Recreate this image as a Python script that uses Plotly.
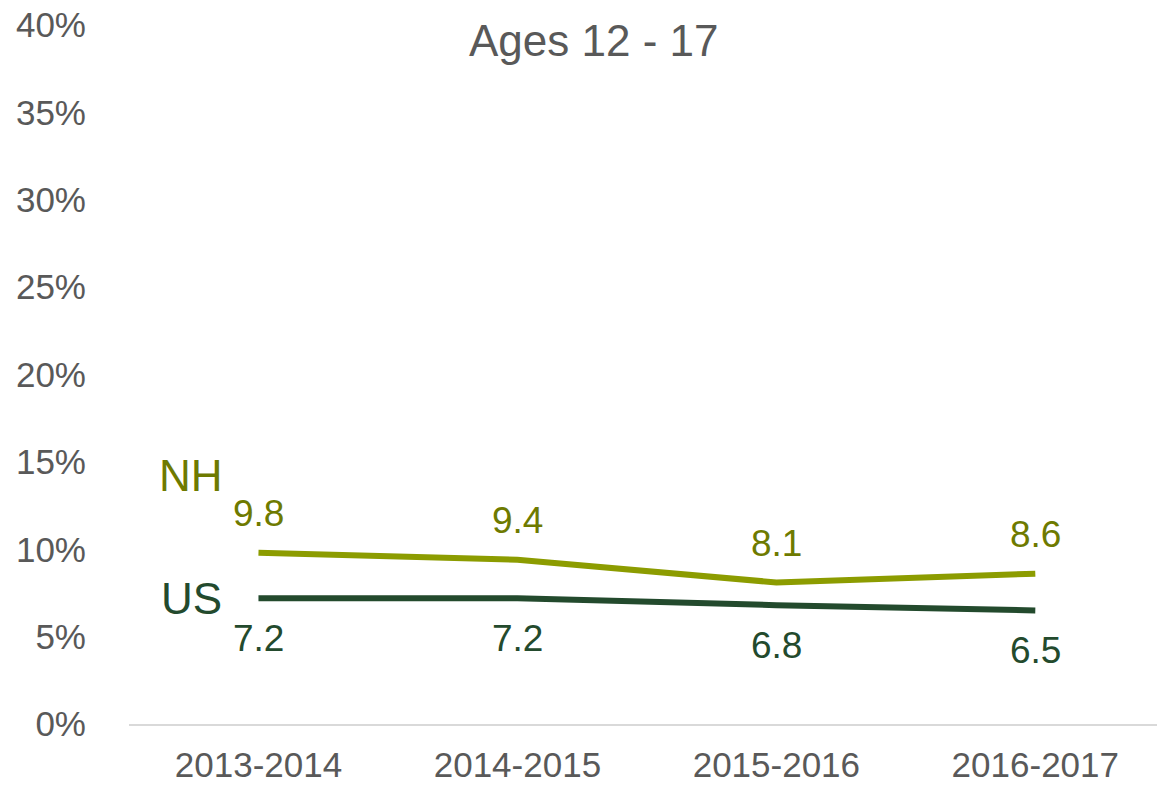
import plotly.graph_objects as go

categories = ["2013-2014", "2014-2015", "2015-2016", "2016-2017"]
nh_values = [9.8, 9.4, 8.1, 8.6]
us_values = [7.2, 7.2, 6.8, 6.5]
y_ticks = [0, 5, 10, 15, 20, 25, 30, 35, 40]
title_text = "Ages 12 - 17"

NH_LINE = "#8c9c00"
NH_TEXT = "#6e7a00"
US_COLOR = "#234a2d"
GREY = "#595959"
FONT = "Liberation Sans, Arial, sans-serif"

fig = go.Figure()
fig.add_trace(go.Scatter(x=categories, y=nh_values, mode="lines",
                         line=dict(color=NH_LINE, width=6), name="NH", hoverinfo="skip"))
fig.add_trace(go.Scatter(x=categories, y=us_values, mode="lines",
                         line=dict(color=US_COLOR, width=6), name="US", hoverinfo="skip"))

annotations = []
for c, v in zip(categories, nh_values):
    annotations.append(dict(x=c, y=v, text=f"{v:.1f}", showarrow=False, yshift=39,
                            font=dict(family=FONT, size=37, color=NH_TEXT)))
for c, v in zip(categories, us_values):
    annotations.append(dict(x=c, y=v, text=f"{v:.1f}", showarrow=False, yshift=-40,
                            font=dict(family=FONT, size=37, color=US_COLOR)))
annotations.append(dict(x=-0.26, y=14.2, text="NH", showarrow=False,
                        font=dict(family=FONT, size=44, color=NH_TEXT)))
annotations.append(dict(x=-0.26, y=us_values[0], text="US", showarrow=False,
                        font=dict(family=FONT, size=44, color=US_COLOR)))
annotations.append(dict(xref="paper", yref="paper", x=0.452, y=0.978, text=title_text,
                        showarrow=False, xanchor="center", yanchor="middle",
                        font=dict(family=FONT, size=44, color=GREY)))

fig.update_layout(
    width=1157, height=786,
    margin=dict(l=129, r=0, t=25, b=62),
    plot_bgcolor="white", paper_bgcolor="white",
    showlegend=False,
    annotations=annotations,
    xaxis=dict(type="category", range=[-0.5, 3.47], showgrid=False, zeroline=False,
               showline=True, linecolor="#d9d9d9", linewidth=2, ticks="",
               ticklabelstandoff=9, automargin=False,
               tickfont=dict(family=FONT, size=35, color=GREY)),
    yaxis=dict(range=[0, 40], tickvals=y_ticks, ticktext=[f"{t}%" for t in y_ticks],
               showgrid=False, zeroline=False, showline=False, ticks="",
               ticklabelstandoff=42, automargin=False,
               tickfont=dict(family=FONT, size=35, color=GREY)),
)

fig.write_html("out.html", config={"displayModeBar": False},
               post_script="document.body.style.margin='0';document.body.style.overflow='hidden';")
